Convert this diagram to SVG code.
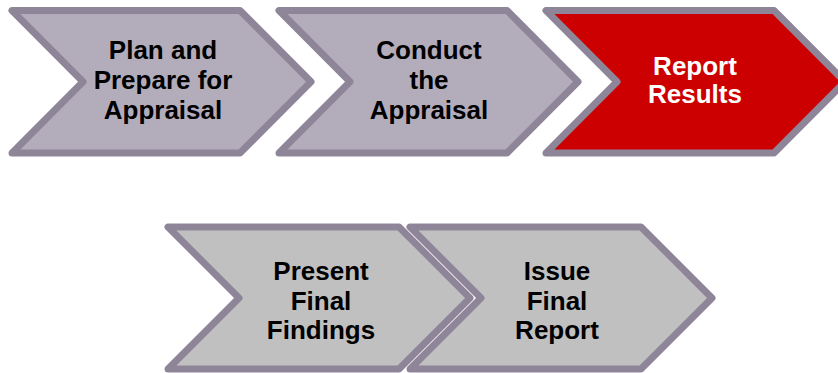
<svg xmlns="http://www.w3.org/2000/svg" width="838" height="373" viewBox="0 0 838 373">
<style>
.chev{stroke:#8F8599;stroke-width:7;stroke-linejoin:round}
.g1{fill:#B3ADBB}
.g2{fill:#C0C0C0}
.red{fill:#CC0000}
.t{font-family:"Liberation Sans",Arial,sans-serif;font-weight:bold;font-size:26px;text-anchor:middle;fill:#000}
.w{fill:#fff}
</style>
<rect width="838" height="373" fill="#fff"/>
<g id="plan">
<polygon class="chev g1" points="12,10.5 240,10.5 311,81.75 240,153 12,153 83,81.75"/>
<text class="t" x="163" y="59">Plan and</text>
<text class="t" x="163" y="89">Prepare for</text>
<text class="t" x="163" y="119">Appraisal</text>
</g>
<g id="conduct">
<polygon class="chev g1" points="279,10.5 507,10.5 578,81.75 507,153 279,153 350,81.75"/>
<text class="t" x="429" y="59">Conduct</text>
<text class="t" x="429" y="89">the</text>
<text class="t" x="429" y="119">Appraisal</text>
</g>
<g id="report">
<polygon class="chev red" points="546,10.5 774,10.5 845,81.75 774,153 546,153 617,81.75"/>
<text class="t w" x="695" y="74.5">Report</text>
<text class="t w" x="695" y="103">Results</text>
</g>
<g id="present">
<polygon class="chev g2" points="168,227 399,227 470,298 399,369 168,369 239,298"/>
<text class="t" x="321" y="280">Present</text>
<text class="t" x="321" y="309.5">Final</text>
<text class="t" x="321" y="338.5">Findings</text>
</g>
<g id="issue">
<polygon class="chev g2" points="410,227 641,227 712,298 641,369 410,369 481,298"/>
<text class="t" x="557" y="280">Issue</text>
<text class="t" x="557" y="309.5">Final</text>
<text class="t" x="557" y="338.5">Report</text>
</g>
<g id="connectors"></g>
</svg>
